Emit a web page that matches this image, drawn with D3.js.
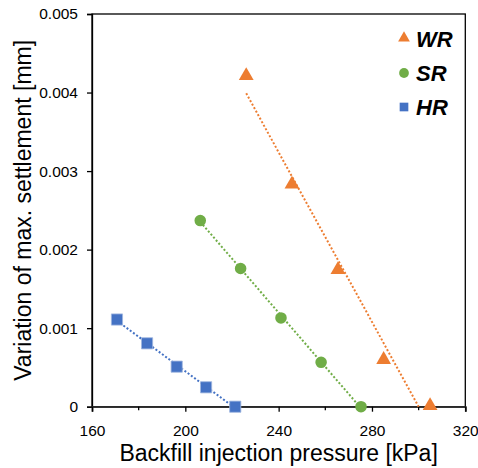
<!DOCTYPE html>
<html>
<head>
<meta charset="utf-8">
<script src="https://cdn.jsdelivr.net/npm/d3@7"></script>
<style>
  html, body { margin: 0; padding: 0; background: #fff; }
  svg { display: block; font-family: "Liberation Sans", Arial, sans-serif; }
</style>
</head>
<body>
<svg id="chart" width="478" height="468"></svg>
<script>
// ---- data ----
const seriesNames = ["WR", "SR", "HR"];
const wrPressure = [226.1, 245.7, 265.4, 285.0, 304.9];
const wrSettlement = [0.00420, 0.00282, 0.00173, 0.000586, 0];
const srPressure = [206.4, 223.7, 241.0, 258.2, 275.3];
const srSettlement = [0.00237, 0.00176, 0.00113, 0.000565, 0];
const hrPressure = [170.7, 183.6, 196.3, 208.9, 221.4];
const hrSettlement = [0.00111, 0.000807, 0.000510, 0.000247, 0];
const xTicks = [160, 200, 240, 280, 320];
const xMinorTicks = [180, 220, 260, 300];
const yTicks = [0, 0.001, 0.002, 0.003, 0.004, 0.005];
const colors = { WR: "#ED7D31", SR: "#70AD47", HR: "#4472C4" };

const series = [
  { name: "WR", x: wrPressure, y: wrSettlement, shape: d3.symbolTriangle },
  { name: "SR", x: srPressure, y: srSettlement, shape: d3.symbolCircle },
  { name: "HR", x: hrPressure, y: hrSettlement, shape: d3.symbolSquare }
];

// ---- layout ----
const svg = d3.select("#chart");
const L = 92, R = 465.3, T = 14, B = 406.7;
const x = d3.scaleLinear().domain([160, 320]).range([L, R]);
const y = d3.scaleLinear().domain([0, 0.005]).range([B, T]);

// frame
svg.append("rect").attr("x", L).attr("y", T).attr("width", R - L).attr("height", B - T)
  .attr("fill", "none").attr("stroke", "#000").attr("stroke-width", 1.3);

// y axis
const yAxis = svg.append("g").attr("transform", `translate(${L},0)`)
  .call(d3.axisLeft(y).tickValues(yTicks).tickSize(5).tickPadding(9)
    .tickFormat(d => d === 0 ? "0" : d3.format(".3f")(d)));
yAxis.select(".domain").attr("stroke", "#000").attr("stroke-width", 1.3);
yAxis.selectAll(".tick line").attr("stroke", "#000").attr("stroke-width", 1.3);
yAxis.selectAll("text").attr("font-size", 15.5).attr("fill", "#000")
  .attr("font-family", "Liberation Sans, Arial, sans-serif");

// x axis
const xAxis = svg.append("g").attr("transform", `translate(0,${B})`)
  .call(d3.axisBottom(x).tickValues(xTicks).tickSize(5).tickPadding(13.5)
    .tickFormat(d3.format("d")));
xAxis.select(".domain").attr("stroke", "#333").attr("stroke-width", 1.8);
xAxis.selectAll(".tick line").attr("stroke", "#000").attr("stroke-width", 1.3);
xAxis.selectAll("text").attr("font-size", 15.5).attr("fill", "#000")
  .attr("font-family", "Liberation Sans, Arial, sans-serif");
svg.append("g").attr("transform", `translate(0,${B})`)
  .selectAll("line").data(xMinorTicks).join("line")
  .attr("x1", d => x(d)).attr("x2", d => x(d)).attr("y1", 0).attr("y2", 3.5)
  .attr("stroke", "#000").attr("stroke-width", 1.3);

// axis titles
svg.append("text").attr("x", (L + R) / 2).attr("y", 461)
  .attr("text-anchor", "middle").attr("font-size", 23).attr("fill", "#000")
  .text("Backfill injection pressure [kPa]");
svg.append("text").attr("transform", `translate(31,${(T + B) / 2}) rotate(-90)`)
  .attr("text-anchor", "middle").attr("font-size", 23).attr("fill", "#000")
  .text("Variation of max. settlement [mm]");

// trendlines (least squares, clipped at y = 0)
function trend(xs, ys) {
  const mx = d3.mean(xs), my = d3.mean(ys);
  let sxy = 0, sxx = 0;
  xs.forEach((v, i) => { sxy += (v - mx) * (ys[i] - my); sxx += (v - mx) * (v - mx); });
  const m = sxy / sxx, b = my - m * mx;
  const x0 = d3.min(xs);
  let x1 = d3.max(xs);
  if (m * x1 + b < 0) x1 = -b / m;
  return [[x0, m * x0 + b], [x1, Math.max(0, m * x1 + b)]];
}
const line = d3.line().x(d => x(d[0])).y(d => y(d[1]));
series.forEach(s => {
  svg.append("path").datum(trend(s.x, s.y)).attr("d", line)
    .attr("fill", "none").attr("stroke", colors[s.name])
    .attr("stroke-width", 2).attr("stroke-dasharray", "2,2");
});

// markers
series.forEach(s => {
  const sizes = { WR: 95, SR: 105, HR: 125 };
  const sym = d3.symbol().type(s.shape).size(sizes[s.name]);
  svg.append("g").selectAll("path").data(s.x.map((v, i) => [v, s.y[i]])).join("path")
    .attr("transform", d => `translate(${x(d[0])},${y(d[1]) + (s.name === "WR" ? -1 : 0)})`)
    .attr("d", sym)
    .attr("fill", colors[s.name])
    .attr("stroke", s.name === "HR" ? "#9fb6e0" : "none").attr("stroke-width", 0.8);
});

// legend
const legendY = [39, 73, 107];
series.forEach((s, i) => {
  const sizes = { WR: 60, SR: 75, HR: 75 };
  svg.append("path").attr("d", d3.symbol().type(s.shape).size(sizes[s.name]))
    .attr("transform", `translate(404,${legendY[i] + (s.name === "WR" ? -1 : 0)})`)
    .attr("fill", colors[s.name]);
  svg.append("text").attr("x", 416).attr("y", legendY[i] + 7.8)
    .attr("font-size", 22).attr("font-weight", "bold").attr("font-style", "italic")
    .attr("fill", "#000").text(s.name);
});
</script>
</body>
</html>
